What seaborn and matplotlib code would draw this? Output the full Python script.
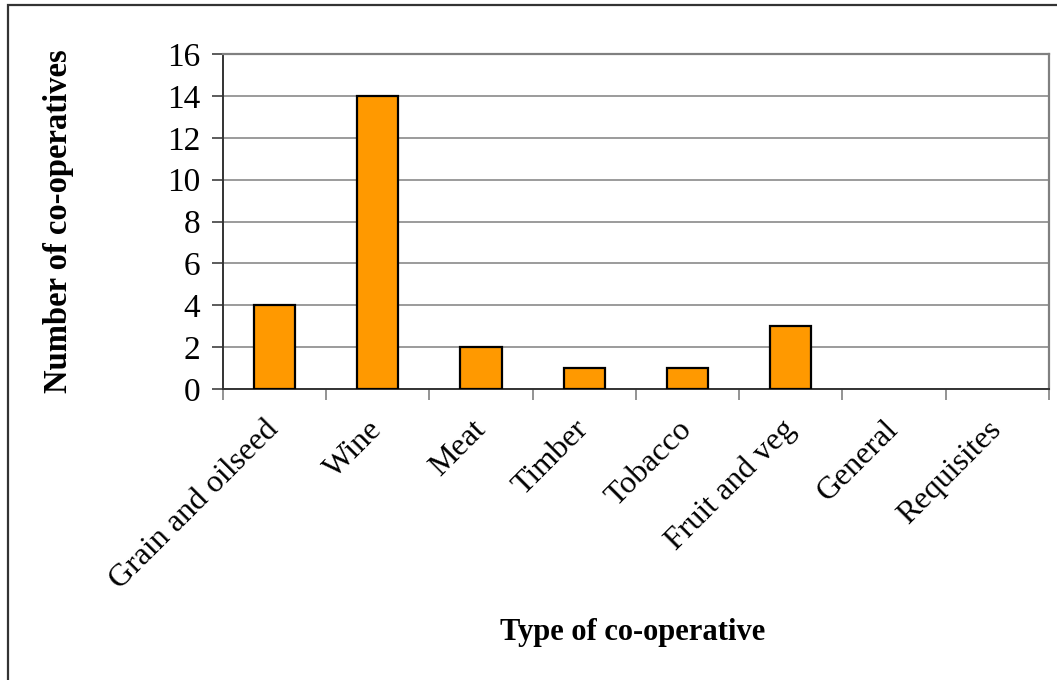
import matplotlib
matplotlib.use('Agg')
import matplotlib.pyplot as plt
import matplotlib.patches as mpatches
import numpy as np
import pandas as pd
import seaborn as sns

categories = ['Grain and oilseed', 'Wine', 'Meat', 'Timber', 'Tobacco',
              'Fruit and veg', 'General', 'Requisites']
counts = [4, 14, 2, 1, 1, 3, 0, 0]
y_ticks = [0, 2, 4, 6, 8, 10, 12, 14, 16]

sns.set_style('white')
plt.rcParams['font.family'] = ['Liberation Serif', 'DejaVu Serif']
plt.rcParams['text.color'] = 'black'
plt.rcParams['axes.labelcolor'] = 'black'

df = pd.DataFrame({'type': categories, 'count': counts})

fig = plt.figure(figsize=(10.57, 6.8), dpi=100)
ax = fig.add_axes([222.7 / 1057, 1 - 389 / 680, (1049 - 222.7) / 1057,
                   (389 - 54) / 680])

sns.barplot(data=df, x='type', y='count', ax=ax, color='#FF9900',
            saturation=1, width=0.4, edgecolor='black', linewidth=1.6,
            zorder=3)
# empty categories: no visible outline
for bar in ax.patches:
    if bar.get_height() == 0:
        bar.set_linewidth(0)

ax.set_xlim(-0.5, len(categories) - 0.5)
ax.set_ylim(0, 16)
ax.set_yticks(y_ticks)
ax.set_yticklabels([str(v) for v in y_ticks], fontsize=24)
ax.yaxis.grid(True, color='#808080', linewidth=1.1, zorder=0)
ax.tick_params(axis='y', direction='out', length=8, width=1.2,
               color='#404040', labelcolor='black', left=True, pad=8)

# category labels at centres, tick marks at boundaries
ax.set_xticks(np.arange(len(categories)))
ax.set_xticklabels(categories, fontsize=23, rotation=45, ha='right',
                   va='center', rotation_mode='anchor')
ax.tick_params(axis='x', which='major', length=0, pad=26,
               labelcolor='black')
ax.set_xticks(np.arange(len(categories) + 1) - 0.5, minor=True)
ax.tick_params(axis='x', which='minor', direction='out', length=8,
               width=1.2, color='#808080', bottom=True)

for side in ['left', 'bottom']:
    ax.spines[side].set_color('#333333')
    ax.spines[side].set_linewidth(1.4)
for side in ['top', 'right']:
    ax.spines[side].set_color('#808080')
    ax.spines[side].set_linewidth(1.6)

ax.set_xlabel('Type of co-operative', fontsize=22, fontweight='bold')
ax.set_ylabel('Number of co-operatives', fontsize=23.5, fontweight='bold')
ax.xaxis.set_label_coords((633 - 222.7) / (1049 - 222.7),
                          -(618 - 389) / (389 - 54))
ax.yaxis.set_label_coords(-(222.7 - 74) / (1049 - 222.7), 0.5)

border = mpatches.Rectangle((8 / 1057, -0.1), 1.2, 1.1 - 5 / 680,
                            transform=fig.transFigure, fill=False,
                            edgecolor='#333333', linewidth=1.6,
                            clip_on=False)
fig.add_artist(border)

fig.savefig('out.png', dpi=100)
